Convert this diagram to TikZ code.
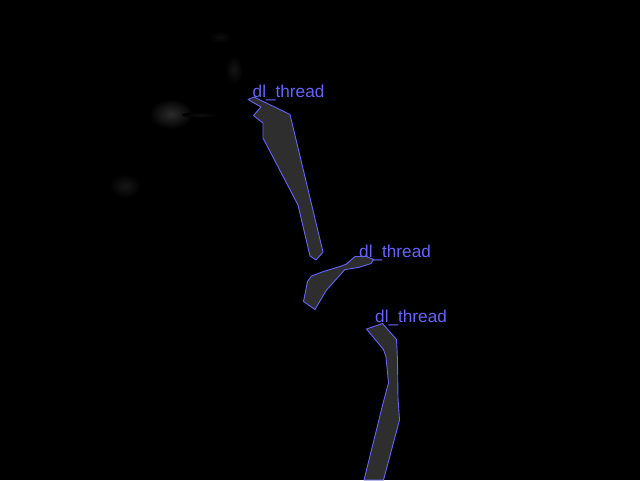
\documentclass[tikz,border=0pt]{standalone}
\usepackage{fontspec}
\setmainfont{Liberation Sans}
\begin{document}
\begin{tikzpicture}[x=1pt,y=-1pt,
  seg/.style={draw=segblue,line width=0.9pt,fill=segfill,line join=round},
  lbl/.style={text=segblue,font=\fontsize{17.2}{17.2}\selectfont,inner sep=0pt,anchor=base west},
  blob/.style={shading=radial,inner color=#1,outer color=black}]
\definecolor{segblue}{RGB}{100,100,250}
\definecolor{segfill}{RGB}{46,46,46}
\fill[black] (0,0) rectangle (640,480);
\useasboundingbox (0,0) rectangle (640,480);
% faint background smudges
\shade[blob=white!17!black] (171,114) ellipse [x radius=22, y radius=15];
\shade[blob=white!9!black] (125,186) ellipse [x radius=16, y radius=12];
\shade[blob=white!8!black] (234,70) ellipse [x radius=9, y radius=14];
\shade[blob=white!5!black] (220,37) ellipse [x radius=12, y radius=6];
\shade[blob=white!6!black] (200,115) ellipse [x radius=18, y radius=2.5];
% thread 1
\draw[seg] (248,99.5) -- (254,97) -- (290,114.5) -- (323,252) -- (316,260) -- (310,256)
  -- (298,205) -- (263,138) -- (263,123) -- (253.5,115.5) -- (261,107) -- cycle;
% thread 2
\draw[seg] (307.5,281.5) -- (303.5,301.5) -- (315,309.5) -- (326.5,290) -- (345,269.5)
  -- (358.5,267.5) -- (371,263.5) -- (373.5,259.5) -- (366.5,256.5) -- (355,256.5)
  -- (346.5,264) -- (340,266.5) -- (323.5,271.5) -- (311.5,276) -- cycle;
% thread 3
\draw[seg] (366.5,329) -- (382.5,323.5) -- (396.5,339.5) -- (397.5,360) -- (398,398)
  -- (399.5,420) -- (383.5,480) -- (364,480) -- (383.5,401.5) -- (388.5,383)
  -- (386,357) -- (383.5,349.5) -- cycle;
% labels
\node[lbl] (l1) at (252.5,97) {dl\_thread};
\node[lbl] (l2) at (359,257) {dl\_thread};
\node[lbl] (l3) at (375,322.5) {dl\_thread};
\end{tikzpicture}
\end{document}
